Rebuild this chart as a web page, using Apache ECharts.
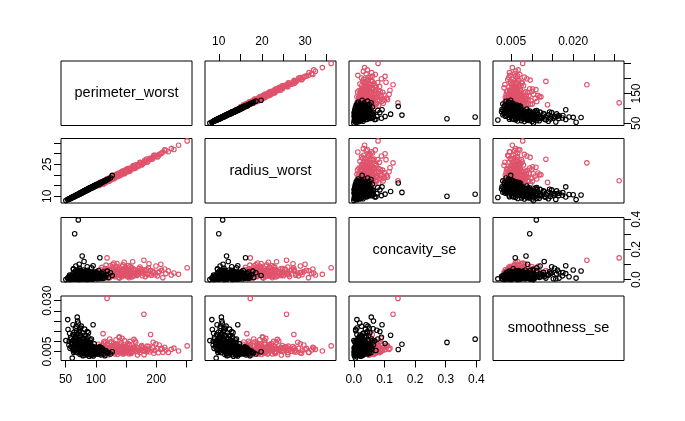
<!DOCTYPE html>
<html>
<head>
<meta charset="utf-8">
<script src="https://cdn.jsdelivr.net/npm/echarts@6/dist/echarts.min.js"></script>
<style>
html,body{margin:0;padding:0;background:#fff;}
#chart{width:685px;height:421px;}
</style>
</head>
<body>
<div id="chart"></div>
<script>
// ---- data ----
const variables = ['perimeter_worst', 'radius_worst', 'concavity_se', 'smoothness_se'];

// rows: [perimeter_worst, radius_worst, concavity_se, smoothness_se]
const benign = [
  [72.1,11.0,0.012,0.0061],[75.3,11.5,0.018,0.0072],[78.0,11.9,0.025,0.0055],[80.2,12.2,0.009,0.0068],
  [82.5,12.6,0.031,0.0049],[84.0,12.8,0.015,0.0077],[86.3,13.1,0.022,0.0058],[88.1,13.4,0.040,0.0064],
  [90.4,13.7,0.011,0.0052],[92.0,14.0,0.027,0.0045],[94.6,14.3,0.019,0.0060],[96.2,14.5,0.035,0.0071],
  [98.5,14.9,0.014,0.0043],[100.3,15.1,0.023,0.0050],[76.8,11.7,0.006,0.0084],[79.4,12.1,0.044,0.0090],
  [81.7,12.4,0.020,0.0059],[83.2,12.7,0.028,0.0066],[85.5,12.9,0.008,0.0047],[87.4,13.3,0.033,0.0081],
  [89.0,13.5,0.017,0.0073],[91.3,13.8,0.026,0.0039],[93.5,14.1,0.037,0.0056],[95.8,14.5,0.012,0.0062],
  [97.1,14.7,0.021,0.0048],[99.4,15.0,0.030,0.0054],[73.6,11.2,0.016,0.0079],[77.2,11.8,0.029,0.0065],
  [80.9,12.3,0.013,0.0075],[83.8,12.7,0.038,0.0057],[86.9,13.2,0.024,0.0069],[88.7,13.5,0.005,0.0051],
  [90.9,13.8,0.019,0.0082],[93.0,14.0,0.046,0.0063],[95.1,14.4,0.010,0.0040],[97.7,14.8,0.032,0.0058],
  [101.5,15.3,0.016,0.0046],[74.5,11.4,0.034,0.0095],[78.8,12.0,0.007,0.0060],[82.0,12.5,0.049,0.0070],
  [84.7,12.8,0.020,0.0053],[87.8,13.3,0.013,0.0044],[89.6,13.6,0.028,0.0059],[92.5,14.0,0.003,0.0067],
  [94.1,14.2,0.042,0.0074],[96.7,14.6,0.024,0.0037],[99.0,15.0,0.008,0.0061],[102.8,15.5,0.036,0.0052],
  [70.5,10.8,0.022,0.0088],[75.9,11.6,0.052,0.0076],[79.9,12.2,0.017,0.0047],[85.0,12.9,0.039,0.0086],
  [91.8,13.9,0.031,0.0043],[86.0,13.1,0.002,0.0070],[81.2,12.4,0.026,0.0101],[88.4,13.4,0.055,0.0078],
  [93.8,14.2,0.020,0.0035],[77.8,11.9,0.040,0.0054],[84.4,12.9,0.011,0.0093],[90.0,13.6,0.014,0.0066],
  [50.4,7.93,0.000,0.0104],[53.5,8.4,0.010,0.0207],[54.0,8.5,0.006,0.0158],[56.6,8.8,0.030,0.0140],
  [58.2,9.0,0.015,0.0118],[59.5,9.2,0.004,0.0095],[61.0,9.4,0.005,0.0018],[62.3,9.6,0.040,0.0182],
  [63.8,9.8,0.020,0.0131],[65.0,10.0,0.304,0.0095],[66.4,10.2,0.058,0.0112],[67.7,10.4,0.025,0.0174],
  [69.2,10.6,0.057,0.0219],[71.0,10.9,0.396,0.0111],[64.5,9.9,0.012,0.0079],[68.5,10.5,0.035,0.0125],
  [60.2,9.3,0.023,0.0089],[57.3,8.9,0.001,0.0066],[72.8,11.1,0.044,0.0148],[66.0,10.1,0.008,0.0060],
  [70.0,10.7,0.030,0.0136],[74.0,11.3,0.063,0.0162],[62.8,9.7,0.068,0.0103],[55.5,8.7,0.018,0.0082],
  [103.6,15.6,0.021,0.0039],[105.2,15.8,0.040,0.0055],[106.8,16.0,0.012,0.0047],[108.3,16.3,0.030,0.0034],
  [110.0,16.5,0.018,0.0060],[112.4,16.9,0.050,0.0042],[114.9,17.2,0.026,0.0030],[117.6,17.6,0.033,0.0051],
  [121.0,18.1,0.014,0.0044],[124.3,18.6,0.045,0.0038],[127.1,19.8,0.027,0.0049],[104.5,15.7,0.060,0.0068],
  [107.5,16.1,0.008,0.0057],[111.2,16.7,0.037,0.0064],[119.0,17.9,0.056,0.0045],[106.7,16.2,0.145,0.0060],
  [77.4,11.8,0.157,0.0086],[80.5,12.2,0.120,0.0130],[95.5,14.4,0.092,0.0182],[72.5,11.0,0.102,0.0090],
  [85.8,13.0,0.085,0.0148],[66.9,10.3,0.090,0.0120],[92.8,14.1,0.078,0.0112],[63.0,9.7,0.072,0.0055],
  [82.8,12.6,0.048,0.0128],[78.6,12.0,0.032,0.0141],[75.0,11.5,0.010,0.0166],[87.2,13.2,0.041,0.0120],
  [70.8,10.8,0.019,0.0190],[73.2,11.2,0.075,0.0155],[90.6,13.8,0.028,0.0108],
  [65.2,10.2,0.004,0.0052],[67.8,10.5,0.011,0.0071],[69.5,10.6,0.018,0.0045],[71.3,10.9,0.007,0.0083],
  [73.0,11.3,0.026,0.0058],[74.8,11.3,0.013,0.0066],[76.1,11.8,0.021,0.0039],[77.5,11.6,0.005,0.0074],
  [79.0,12.2,0.033,0.0062],[80.6,12.1,0.016,0.0051],[82.2,12.7,0.010,0.0087],[83.5,12.5,0.024,0.0043],
  [84.9,13.1,0.036,0.0069],[86.5,12.9,0.009,0.0056],[87.9,13.6,0.020,0.0048],[89.3,13.3,0.029,0.0077],
  [90.7,14.0,0.015,0.0060],[92.2,13.8,0.041,0.0053],[93.6,14.4,0.006,0.0046],[95.0,14.1,0.023,0.0068],
  [96.4,14.8,0.031,0.0041],[97.9,14.6,0.012,0.0055],[99.6,15.3,0.019,0.0063],[101.0,15.0,0.027,0.0038],
  [60.8,9.6,0.014,0.0092],[63.1,9.6,0.009,0.0107],[64.9,10.1,0.032,0.0087],[66.7,10.1,0.003,0.0098],
  [68.8,10.7,0.022,0.0064],[70.2,10.6,0.039,0.0094],[72.4,11.3,0.001,0.0050],[74.1,11.2,0.017,0.0109],
  [75.6,11.7,0.028,0.0081],[77.0,11.6,0.045,0.0059],[78.3,12.1,0.012,0.0097],[79.7,12.0,0.006,0.0042],
  [81.0,12.5,0.035,0.0076],[82.7,12.4,0.019,0.0063],[84.2,13.0,0.027,0.0052],[85.7,12.8,0.014,0.0080],
  [87.0,13.4,0.047,0.0057],[88.5,13.2,0.008,0.0067],[89.9,13.9,0.025,0.0044],[91.5,13.7,0.012,0.0072],
  [92.9,14.3,0.033,0.0049],[94.3,14.0,0.017,0.0058],[95.6,14.7,0.004,0.0065],[97.3,14.5,0.026,0.0050],
  [98.8,15.1,0.038,0.0059],[100.5,14.9,0.010,0.0044],[102.2,15.6,0.022,0.0057],[104.0,15.4,0.031,0.0048],
  [105.8,16.1,0.016,0.0041],[107.9,16.0,0.025,0.0052],[109.6,16.6,0.043,0.0046],[113.5,17.0,0.020,0.0037],
  [116.2,17.3,0.012,0.0055],[69.0,10.4,0.048,0.0079],[76.5,11.5,0.053,0.0070],[83.0,12.9,0.058,0.0061],
  [89.1,13.8,0.050,0.0090],[94.9,14.6,0.048,0.0075],[100.8,15.4,0.046,0.0066],[72.0,11.2,0.060,0.0104],
  [80.0,12.4,0.064,0.0084],[86.8,13.0,0.062,0.0097],[58.9,9.2,0.008,0.0075],[61.5,9.5,0.028,0.0061],
  [63.4,9.8,0.002,0.0046],[65.9,10.2,0.019,0.0122],[67.1,10.2,0.013,0.0085],[62.0,9.5,0.010,0.0134],
  [59.0,9.0,0.024,0.0112],[56.0,8.7,0.009,0.0101],[64.0,9.9,0.044,0.0145],[68.0,10.4,0.006,0.0152],
  [71.8,10.9,0.036,0.0120],[66.2,10.3,0.050,0.0165],[74.3,11.5,0.027,0.0127],[79.1,12.0,0.023,0.0115],
  [84.6,12.7,0.034,0.0106],[91.0,13.9,0.009,0.0095],[97.5,14.8,0.044,0.0088],[103.1,15.5,0.005,0.0064],
  [108.8,16.4,0.028,0.0070],[85.3,13.1,0.001,0.0035],[78.7,11.9,0.002,0.0030],[92.7,14.0,0.015,0.0031],
  [73.8,11.4,0.008,0.0036],[88.9,13.4,0.022,0.0027],[81.8,12.3,0.030,0.0033],[96.0,14.4,0.006,0.0028],
  [70.9,10.9,0.014,0.0068],[75.2,11.6,0.002,0.0047],[82.4,12.6,0.041,0.0054],[87.6,13.4,0.017,0.0092],
  [93.2,14.3,0.029,0.0078],[98.2,15.0,0.020,0.0071],[77.9,12.0,0.015,0.0107],[85.9,13.2,0.026,0.0113],
  [90.2,13.6,0.037,0.0060],[99.8,15.2,0.052,0.0053],[106.0,16.0,0.034,0.0073],[111.8,16.9,0.008,0.0050],
  [76.0,11.7,0.046,0.0175],[81.5,12.5,0.038,0.0160],[69.8,10.7,0.064,0.0200],[87.9,13.3,0.052,0.0143]
];

const malignant = [
  [251.2,36.04,0.079,0.0078],[229.3,32.0,0.044,0.0067],[211.0,30.8,0.013,0.0047],[207.6,30.0,0.102,0.0060],
  [179.6,25.7,0.128,0.0233],[118.6,17.3,0.144,0.0311],[190.7,27.4,0.060,0.0134],[112.0,16.5,0.052,0.0138],
  [237.0,34.0,0.035,0.0053],[220.0,30.9,0.058,0.0046],[214.0,31.8,0.070,0.0071],[202.0,28.5,0.025,0.0065],
  [196.0,29.2,0.048,0.0042],[199.5,28.9,0.090,0.0088],[186.0,26.2,0.033,0.0056],[188.0,27.2,0.105,0.0075],
  [184.0,27.5,0.066,0.0049],[182.0,26.4,0.020,0.0062],[176.0,24.7,0.055,0.0080],[173.0,26.0,0.084,0.0045],
  [170.0,24.6,0.038,0.0068],[168.0,24.4,0.028,0.0053],[166.0,23.3,0.062,0.0095],[164.0,23.8,0.045,0.0058],
  [162.0,24.4,0.071,0.0071],[160.0,23.2,0.017,0.0050],[158.0,22.9,0.052,0.0064],[156.0,21.8,0.036,0.0085],
  [154.0,22.3,0.094,0.0057],[152.0,22.9,0.043,0.0046],[150.5,21.8,0.024,0.0070],[149.0,21.6,0.058,0.0062],
  [147.5,20.6,0.031,0.0104],[146.0,21.2,0.067,0.0052],[144.5,21.9,0.048,0.0076],[143.0,20.8,0.019,0.0061],
  [141.5,20.6,0.040,0.0044],[140.0,19.6,0.075,0.0082],[138.5,20.2,0.053,0.0119],[137.0,20.0,0.027,0.0058],
  [135.5,20.6,0.046,0.0067],[134.0,19.6,0.088,0.0049],[132.5,19.3,0.034,0.0073],[131.0,18.3,0.061,0.0055],
  [129.5,18.9,0.022,0.0091],[128.0,18.7,0.042,0.0063],[126.5,19.3,0.069,0.0047],[125.0,18.3,0.037,0.0079],
  [123.5,18.1,0.015,0.0056],[122.0,17.1,0.050,0.0068],[120.5,17.6,0.029,0.0041],[119.0,17.4,0.063,0.0084],
  [117.5,18.0,0.044,0.0060],[116.0,17.0,0.026,0.0072],[114.5,16.8,0.056,0.0050],[113.0,15.8,0.039,0.0097],
  [111.0,16.3,0.018,0.0064],[109.0,16.0,0.047,0.0054],[107.0,16.6,0.032,0.0077],[105.0,15.5,0.060,0.0045],
  [103.0,15.2,0.024,0.0069],[101.0,14.9,0.041,0.0058],[98.0,14.5,0.030,0.0052],[95.0,14.1,0.049,0.0066],
  [92.0,13.7,0.022,0.0048],[88.0,13.2,0.035,0.0060],[85.1,12.8,0.028,0.0071],
  [155.0,22.4,0.012,0.0039],[145.0,21.1,0.099,0.0070],[139.0,20.3,0.010,0.0053],[159.0,23.0,0.080,0.0047],
  [163.0,23.6,0.030,0.0110],[148.0,21.5,0.072,0.0043],[133.0,19.4,0.056,0.0086],[127.0,18.6,0.083,0.0065],
  [121.5,17.8,0.011,0.0051],[136.0,19.9,0.065,0.0036],[142.0,20.7,0.036,0.0093],[151.0,21.9,0.051,0.0074],
  [157.0,22.8,0.023,0.0059],[169.0,24.5,0.049,0.0033],[178.0,25.8,0.040,0.0070],[192.0,27.8,0.029,0.0058],
  [205.0,29.7,0.053,0.0082],[225.0,32.4,0.031,0.0061],[130.0,19.0,0.110,0.0078],[124.0,18.2,0.092,0.0057],
  [115.0,16.9,0.070,0.0101],[110.0,16.2,0.081,0.0062],[143.5,20.9,0.089,0.0115],[161.0,23.4,0.118,0.0066],
  [102.5,15.8,0.035,0.0063],[106.0,15.1,0.028,0.0049],[108.5,16.6,0.046,0.0071],[111.5,15.9,0.021,0.0058],
  [113.8,17.4,0.059,0.0044],[116.5,16.4,0.033,0.0067],[118.2,18.1,0.041,0.0055],[120.0,17.0,0.027,0.0079],
  [122.5,18.7,0.064,0.0050],[124.8,17.6,0.038,0.0062],[126.0,19.2,0.047,0.0072],[128.6,18.2,0.030,0.0046],
  [130.5,19.8,0.055,0.0059],[132.0,18.8,0.019,0.0085],[134.6,20.3,0.042,0.0053],[136.5,19.3,0.071,0.0064],
  [138.0,20.9,0.036,0.0048],[140.5,19.9,0.050,0.0073],[142.5,21.5,0.025,0.0060],[144.0,20.4,0.062,0.0043],
  [146.5,22.0,0.045,0.0069],[148.5,21.0,0.032,0.0056],[150.0,22.5,0.068,0.0061],[152.5,21.5,0.039,0.0081],
  [154.5,23.1,0.054,0.0047],[157.5,22.2,0.029,0.0066],[160.5,23.9,0.043,0.0054],[163.5,23.0,0.060,0.0072],
  [166.5,24.8,0.034,0.0050],[170.5,24.0,0.051,0.0063],[174.0,25.9,0.045,0.0057],[177.0,25.0,0.026,0.0068],
  [181.0,26.9,0.063,0.0052],[185.0,26.1,0.041,0.0077],[189.5,27.9,0.037,0.0048],[194.0,27.5,0.056,0.0069],
  [198.0,29.3,0.032,0.0055],[203.5,28.9,0.046,0.0044],[209.0,30.3,0.061,0.0066],[216.0,31.5,0.040,0.0058],
  [104.0,15.6,0.052,0.0086],[109.5,16.1,0.016,0.0040],[115.5,17.1,0.074,0.0092],[121.0,17.7,0.048,0.0035],
  [125.5,18.4,0.023,0.0098],[129.0,19.0,0.077,0.0052],[133.5,19.5,0.049,0.0108],[137.5,20.1,0.016,0.0045],
  [141.0,20.6,0.058,0.0087],[145.5,21.3,0.037,0.0038],[149.5,21.8,0.081,0.0076],[153.0,22.2,0.021,0.0090],
  [158.5,23.1,0.066,0.0041],[165.0,23.9,0.047,0.0102],[171.5,24.8,0.073,0.0058],[180.0,26.0,0.052,0.0035],
  [187.0,27.3,0.078,0.0063],[195.0,28.3,0.044,0.0096],[117.0,17.2,0.096,0.0070],[127.5,18.6,0.100,0.0059],
  [135.0,19.8,0.107,0.0082],[147.0,21.5,0.115,0.0061],[156.5,22.7,0.086,0.0100],[138.8,20.1,0.033,0.0122],
  [123.0,18.1,0.058,0.0112],[131.5,19.2,0.031,0.0039],[143.8,20.9,0.046,0.0050],[152.8,22.1,0.057,0.0053],
  [162.5,23.6,0.024,0.0062],[175.5,25.4,0.068,0.0074],[98.5,14.9,0.040,0.0075],[94.0,14.2,0.026,0.0057],
  [100.5,15.0,0.018,0.0047],[107.5,16.0,0.065,0.0061],[112.5,16.7,0.030,0.0082],[119.5,17.5,0.053,0.0048]
];

// tick positions and labelled ticks per variable
const perimeterTicks = [50, 100, 150, 200, 250];
const radiusTicks = [10, 15, 20, 25, 30, 35];
const concavityTicks = [0, 0.1, 0.2, 0.3, 0.4];
const smoothnessTicks = [0.005, 0.010, 0.015, 0.020, 0.025, 0.030];
const perimeterBottomLabels = [50, 100, 200];
const perimeterRightLabels = [50, 150];
const radiusTopLabels = [10, 20, 30];
const radiusLeftLabels = [10, 25];
const concavityBottomLabels = [0, 0.1, 0.2, 0.3, 0.4];
const concavityRightLabels = [0, 0.2, 0.4];
const smoothnessTopLabels = [0.005, 0.020];
const smoothnessLeftLabels = [0.005, 0.030];

// ---- layout / styling ----
const colLeft = [61, 205, 349, 493];
const rowTop = [61, 138.5, 217.5, 296];
const W = 131, H = 64.5;
const FONT = 'Liberation Sans, Arial, sans-serif';
const BENIGN = '#000000', MALIG = '#DF536B';

function extent(k) {
  const vals = benign.concat(malignant).map(r => r[k]);
  const lo = Math.min(...vals), hi = Math.max(...vals);
  const pad = (hi - lo) * 0.04;
  return [lo - pad, hi + pad];
}
const ext = [0,1,2,3].map(extent);
const tickSets = [perimeterTicks, radiusTicks, concavityTicks, smoothnessTicks];
const fmt = [v => String(v), v => String(v), v => v.toFixed(1), v => v.toFixed(3)];
const sideLabels = {
  x_bottom: {0: perimeterBottomLabels, 2: concavityBottomLabels},
  x_top: {1: radiusTopLabels, 3: smoothnessTopLabels},
  y_left: {1: radiusLeftLabels, 3: smoothnessLeftLabels},
  y_right: {0: perimeterRightLabels, 2: concavityRightLabels}
};

const grids = [], xAxes = [], yAxes = [], series = [], graphics = [];
for (let i = 0; i < 4; i++) {
  for (let j = 0; j < 4; j++) {
    const k = i * 4 + j;
    grids.push({left: colLeft[j], top: rowTop[i], width: W, height: H,
      show: true, borderColor: '#000', borderWidth: 1, backgroundColor: 'transparent'});
    let xPos = null;
    if (i === 0 && (j === 1 || j === 3)) xPos = 'top';
    if (i === 3 && (j === 0 || j === 2)) xPos = 'bottom';
    const xLabels = xPos ? sideLabels['x_' + xPos][j] : null;
    xAxes.push({
      gridIndex: k, type: 'value', min: ext[j][0], max: ext[j][1],
      position: xPos || 'bottom', show: !!xPos,
      axisLine: {show: false}, splitLine: {show: false},
      axisTick: {show: !!xPos, inside: false, length: 7, lineStyle: {color: '#000', width: 1}, customValues: tickSets[j]},
      axisLabel: {show: !!xPos, customValues: xLabels || [], formatter: fmt[j], margin: 13,
        color: '#000', fontSize: 12, fontFamily: FONT, hideOverlap: false, showMinLabel: true, showMaxLabel: true}
    });
    let yPos = null;
    if (j === 0 && (i === 1 || i === 3)) yPos = 'left';
    if (j === 3 && (i === 0 || i === 2)) yPos = 'right';
    const yLabels = yPos ? sideLabels['y_' + yPos][i] : null;
    yAxes.push({
      gridIndex: k, type: 'value', min: ext[i][0], max: ext[i][1],
      position: yPos || 'left', show: !!yPos,
      axisLine: {show: false}, splitLine: {show: false},
      axisTick: {show: !!yPos, inside: false, length: 7, lineStyle: {color: '#000', width: 1}, customValues: tickSets[i]},
      axisLabel: {show: !!yPos, customValues: yLabels || [], formatter: fmt[i], margin: 13, rotate: 90,
        verticalAlign: 'middle', align: 'center',
        color: '#000', fontSize: 12, fontFamily: FONT, hideOverlap: false, showMinLabel: true, showMaxLabel: true}
    });
    if (i === j) {
      graphics.push({type: 'text', x: colLeft[j] + W / 2, y: rowTop[i] + H / 2, silent: true,
        style: {text: variables[i], align: 'center', verticalAlign: 'middle',
          fontSize: 14.5, fontFamily: FONT, fill: '#000'}});
    } else {
      [[malignant, MALIG], [benign, BENIGN]].forEach(([rows, c]) => {
        series.push({
          type: 'scatter', xAxisIndex: k, yAxisIndex: k, silent: true,
          symbol: 'circle', symbolSize: 4.5,
          itemStyle: {color: 'rgba(0,0,0,0)', borderColor: c, borderWidth: 1.1, opacity: 1},
          data: rows.map(r => [r[j], r[i]])
        });
      });
    }
  }
}

const chart = echarts.init(document.getElementById('chart'), null, {renderer: 'canvas'});
chart.setOption({
  animation: false,
  backgroundColor: '#fff',
  grid: grids, xAxis: xAxes, yAxis: yAxes, series: series, graphic: graphics
});
</script>
</body>
</html>
